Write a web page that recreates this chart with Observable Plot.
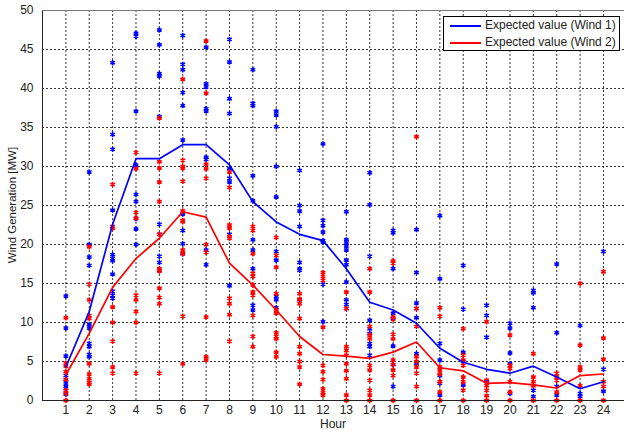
<!DOCTYPE html>
<html><head><meta charset="utf-8">
<script src="https://cdn.jsdelivr.net/npm/d3@7"></script>
<script src="https://cdn.jsdelivr.net/npm/@observablehq/plot@0.6"></script>
<style>
body{margin:0;background:#fff;}
#wrap{position:relative;width:624px;height:437px;font-family:"Liberation Sans",Arial,sans-serif;color:#222;}
#legend{position:absolute;left:443px;top:16px;width:177px;height:35px;border:1px solid #000;background:#fff;font-size:12px;box-sizing:border-box;}
#legend .row{position:absolute;left:0;height:14px;}
#legend .sw{position:absolute;left:6px;top:7px;width:31px;height:2px;}
#legend .tx{position:absolute;left:41px;top:0;white-space:nowrap;line-height:15px;}
#xlab{position:absolute;left:313px;top:417px;width:40px;text-align:center;font-size:12px;}
#ylab{position:absolute;left:12px;top:205px;transform:translate(-50%,-50%) rotate(-90deg);white-space:nowrap;font-size:11.5px;}
</style></head>
<body><div id="wrap"><div id="chart"></div>
<div id="legend">
  <div class="row" style="top:1px"><div class="sw" style="background:#0000ff"></div><div class="tx">Expected value (Wind 1)</div></div>
  <div class="row" style="top:18px"><div class="sw" style="background:#ff0000"></div><div class="tx">Expected value (Wind 2)</div></div>
</div>
<div id="xlab">Hour</div>
<div id="ylab">Wind Generation [MW]</div>
</div>
<script>
const hours = d3.range(1, 25);
const yTicks = d3.range(0, 51, 5);

const wind1Expected = [4.3, 11.4, 22.6, 31.0, 31.0, 32.8, 32.8, 30.2, 25.5, 22.9, 21.3, 20.5, 16.9, 12.6, 11.6, 9.9, 6.7, 4.9, 4.0, 3.5, 4.4, 3.0, 1.5, 2.4];
const wind2Expected = [3.3, 8.6, 14.5, 18.2, 20.8, 24.2, 23.5, 17.6, 14.8, 11.6, 8.2, 5.9, 5.7, 5.4, 6.2, 7.5, 4.2, 3.8, 2.2, 2.3, 2.0, 1.6, 3.2, 3.4];

const wind1Samples = [
  [13.4, 9.3, 5.7, 3.2, 2.5, 2.0, 1.5, 0.8],
  [29.3, 20.0, 18.4, 17.3, 9.7, 9.3, 7.3, 6.9, 5.9, 5.6],
  [43.3, 34.1, 32.2, 24.4, 18.7, 18.2, 17.9, 16.2, 14.0, 13.5, 13.1],
  [47.1, 46.7, 37.1, 30.2, 26.4, 25.5, 23.3, 22.0, 20.0],
  [47.5, 45.6, 41.9, 41.6, 36.4, 22.6, 21.3, 18.5, 17.7, 16.7],
  [46.8, 43.1, 42.4, 39.5, 37.8, 33.4, 23.9, 21.8, 20.1, 18.8],
  [45.3, 40.6, 40.2, 37.4, 37.1, 31.2, 30.9, 19.3, 17.4],
  [46.3, 43.4, 38.7, 36.8, 29.7, 28.5, 28.0, 21.3, 14.7],
  [42.4, 38.1, 37.8, 28.8, 25.6, 20.6, 19.3, 16.9, 12.2, 11.6],
  [37.1, 36.6, 35.1, 30.0, 26.1, 19.1, 18.0, 13.3, 12.9, 11.9],
  [29.5, 25.0, 24.3, 22.3, 17.7, 16.9, 16.7, 12.9],
  [32.9, 23.1, 22.4, 21.6, 20.5, 20.3, 14.9, 10.1],
  [24.2, 20.6, 20.2, 19.8, 19.3, 18.0, 17.4, 15.2, 12.9, 12.3, 11.8],
  [29.2, 25.1, 18.5, 10.3, 9.2, 8.6, 7.3, 6.9, 5.8],
  [21.8, 21.5, 16.9, 11.2, 10.5, 7.0, 4.6, 1.8],
  [21.9, 16.4, 12.5, 11.8, 10.6, 6.0, 4.7],
  [23.7, 15.6, 7.3, 5.2, 3.2, 2.2, 0.7],
  [17.3, 11.7, 6.2, 5.0, 2.0],
  [12.2, 10.9, 8.1, 2.4],
  [9.9, 9.3, 6.1, 4.7, 0.9],
  [14.1, 13.8, 11.9, 1.3, 0.5],
  [17.5, 8.7, 1.8, 0.7],
  [9.6, 0.9, 0.5],
  [19.1, 4.0, 1.2]
];

const wind2Samples = [
  [10.6, 4.8, 4.4, 3.7, 2.7, 1.3, 0.9, 0.0],
  [19.7, 14.9, 12.9, 10.9, 10.5, 4.7, 3.4, 2.8, 2.3, 2.1],
  [27.7, 22.3, 22.1, 12.0, 10.0, 7.6, 4.3, 3.5],
  [31.8, 29.7, 24.1, 23.4, 13.5, 12.9, 11.4, 10.0, 3.5],
  [36.2, 30.6, 29.8, 28.0, 25.5, 21.3, 16.9, 16.6, 14.4, 13.2, 12.4, 3.5],
  [41.2, 30.8, 30.0, 29.8, 28.1, 24.3, 23.1, 22.9, 19.3, 18.8, 10.8, 4.7],
  [46.1, 39.4, 30.3, 29.7, 28.5, 20.0, 19.0, 10.7, 5.6, 5.2],
  [29.3, 27.3, 22.5, 22.1, 21.0, 20.8, 13.1, 12.4, 11.0, 7.6],
  [22.3, 21.8, 18.8, 16.3, 15.9, 14.8, 13.9, 13.5, 10.9, 8.2, 6.9],
  [20.9, 18.6, 17.1, 13.7, 11.6, 11.2, 8.7, 8.2, 7.9, 6.2, 5.6],
  [13.7, 13.0, 12.4, 10.5, 6.9, 6.0, 5.0, 4.3, 2.1],
  [16.4, 15.9, 15.4, 9.4, 4.5, 3.7, 2.7, 1.5, 1.0, 0.7],
  [13.9, 11.8, 6.9, 6.4, 5.8, 4.7, 3.8, 2.8, 0.7, 0.0],
  [16.9, 13.9, 9.5, 8.4, 7.9, 4.5, 3.9, 2.6, 1.3, 0.7, 0.0],
  [17.9, 17.6, 10.7, 10.4, 8.5, 7.9, 5.2, 4.6, 3.9, 3.2, 0.0],
  [33.8, 11.8, 9.5, 5.6, 5.0, 4.3, 3.5, 1.8, 0.0],
  [11.9, 10.8, 4.3, 3.9, 3.4, 2.4, 1.1, 0.0],
  [9.2, 5.8, 5.2, 4.5, 3.0, 2.4, 1.3, 0.0],
  [10.1, 2.6, 1.9, 1.3, 0.6, 0.0],
  [8.4, 4.5, 4.1, 2.4, 1.1, 0.0],
  [6.0, 3.0, 2.4, 1.9, 0.0],
  [3.5, 3.0, 2.6, 1.1, 0.0],
  [15.0, 7.1, 4.3, 3.9, 1.9, 0.0],
  [16.5, 8.0, 5.3, 2.4, 1.8, 0.0]
];

const flat = (samples) => samples.flatMap((vals, i) => vals.map(v => ({hour: hours[i], value: v})));
const pts1 = flat(wind1Samples);
const pts2 = flat(wind2Samples);
const line1 = hours.map((h, i) => ({hour: h, value: wind1Expected[i]}));
const line2 = hours.map((h, i) => ({hour: h, value: wind2Expected[i]}));

const chart = Plot.plot({
  width: 624, height: 437,
  marginLeft: 42, marginRight: 0, marginTop: 10, marginBottom: 37,
  style: {fontFamily: "Liberation Sans, Arial, sans-serif", fontSize: "12px", color: "#222", background: "#fff"},
  x: {domain: [0, 24.9]},
  y: {domain: [0, 50]},
  marks: [
    Plot.ruleX(hours, {x: d => d, stroke: "#000", strokeDasharray: "2,2", strokeWidth: 0.8}),
    Plot.ruleY(yTicks.slice(1, -1), {y: d => d, stroke: "#000", strokeDasharray: "2,2", strokeWidth: 0.8}),
    Plot.dot(pts1, {x: "hour", y: "value", symbol: "asterisk", r: 2.5, stroke: "#0000ff", strokeWidth: 1.5}),
    Plot.dot(pts2, {x: "hour", y: "value", symbol: "asterisk", r: 2.5, stroke: "#ff0000", strokeWidth: 1.5}),
    Plot.line(line1, {x: "hour", y: "value", stroke: "#0000ff", strokeWidth: 1.7}),
    Plot.line(line2, {x: "hour", y: "value", stroke: "#ff0000", strokeWidth: 1.7}),
    Plot.ruleX([0], {stroke: "#222", strokeWidth: 1}),
    Plot.ruleY([0], {stroke: "#222", strokeWidth: 1}),
    Plot.ruleY([50], {stroke: "#777", strokeWidth: 1}),
    Plot.axisX({ticks: hours, tickSize: 0, tickPadding: 5, label: null, tickFormat: d => String(d)}),
    Plot.axisY({ticks: yTicks, tickSize: 0, tickPadding: 9, label: null, tickFormat: d => String(d)})
  ]
});
document.getElementById("chart").appendChild(chart);
</script>
</body></html>
